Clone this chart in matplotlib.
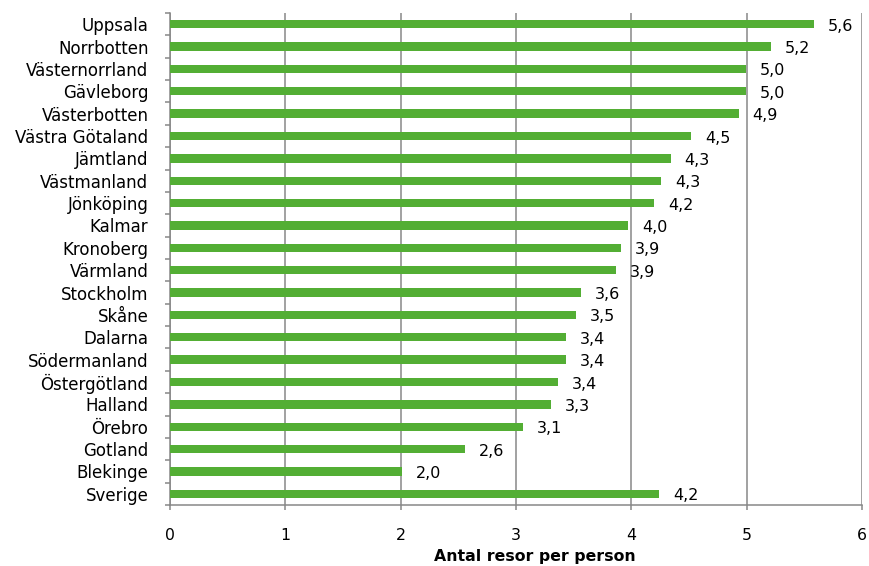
import matplotlib
matplotlib.use("Agg")
import matplotlib.pyplot as plt
import numpy as np

categories = ["Uppsala", "Norrbotten", "Västernorrland", "Gävleborg", "Västerbotten",
              "Västra Götaland", "Jämtland", "Västmanland", "Jönköping", "Kalmar",
              "Kronoberg", "Värmland", "Stockholm", "Skåne", "Dalarna", "Södermanland",
              "Östergötland", "Halland", "Örebro", "Gotland", "Blekinge", "Sverige"]
values = [5.58, 5.21, 4.99, 4.99, 4.93, 4.52, 4.34, 4.26, 4.20, 3.97,
          3.91, 3.87, 3.56, 3.52, 3.43, 3.43, 3.36, 3.30, 3.06, 2.56, 2.01, 4.24]
xticks = [0, 1, 2, 3, 4, 5, 6]
xlabel = "Antal resor per person"

plt.rcParams['font.family'] = ['DejaVu Sans']
GRID = "#878787"
BAR = "#53AE34"
FS = 11.3

fig = plt.figure(figsize=(8.7, 5.66), dpi=100)
ax = fig.add_axes([170/870, 1-505/566, 692/870, 492/566])

y = np.arange(len(categories))
ax.barh(y, values, height=0.37, color=BAR, zorder=3)
for yi, v in zip(y, values):
    ax.annotate(f"{v:.1f}".replace(".", ","), (v, yi), xytext=(10, -1.5),
                textcoords="offset points", va="center", ha="left", fontsize=11.5,
                color="black")

ax.set_xlim(0, 6)
ax.set_ylim(len(categories) - 0.5, -0.5)
ax.set_xticks(xticks)
ax.set_xticklabels([str(t) for t in xticks], fontsize=FS)
ax.set_yticks(y)
ax.set_yticklabels(categories, fontsize=12)
ax.set_yticks(np.arange(len(categories) + 1) - 0.5, minor=True)
ax.tick_params(axis='y', which='major', length=0, pad=15.5)
ax.tick_params(axis='y', which='minor', length=3.6, width=1.1, color=GRID, direction='out')
ax.tick_params(axis='x', which='major', length=3.6, width=1.1, color=GRID, direction='out', pad=13)
ax.grid(axis='x', color=GRID, linewidth=1.1, zorder=0)
for s in ["top", "right"]:
    ax.spines[s].set_visible(False)
for s in ["left", "bottom"]:
    ax.spines[s].set_color(GRID)
    ax.spines[s].set_linewidth(1.1)

fig.text(535/870, 1-556/566, xlabel, ha="center", va="center", fontsize=FS, fontweight="bold")

fig.savefig("out.png", dpi=100)
